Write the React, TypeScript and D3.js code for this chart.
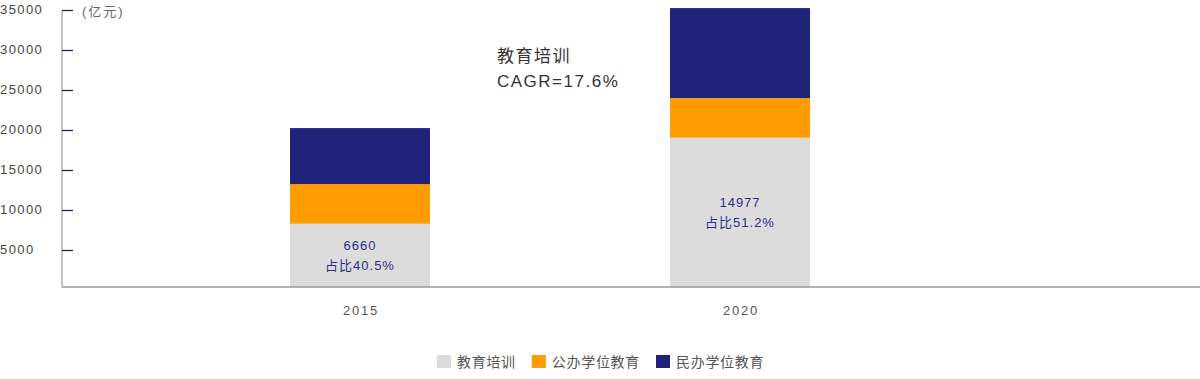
import React from "react";
import * as d3 from "d3";

const years = ["2015", "2020"];
const seriesNames = ["教育培训", "公办学位教育", "民办学位教育"];
const training = [8350, 19100];
const publicEdu = [4950, 4950];
const privateEdu = [7000, 11250];
const colors = ["#dcdcdc", "#ff9c00", "#1f237a"];
const labelValues = ["6660", "14977"];
const labelShares = ["占比40.5%", "占比51.2%"];
const yTicks = [5000, 10000, 15000, 20000, 25000, 30000, 35000];
const unitLabel = "(亿元)";
const noteLines = ["教育培训", "CAGR=17.6%"];

const W = 1200;
const H = 379;
const FONT = "'Liberation Sans', Arial, 'Noto Sans CJK SC', sans-serif";

export default function App() {
  const axisX = 62;
  const axisY = 287;
  const y = d3.scaleLinear().domain([0, 35000]).range([290.5, 10.5]);
  const x = d3.scalePoint<string>().domain(years).range([360, 740]);
  const barW = 140;

  const rows = years.map((yr, i) => ({
    year: yr,
    s0: training[i],
    s1: publicEdu[i],
    s2: privateEdu[i],
  }));
  const stack = d3.stack<any>().keys(["s0", "s1", "s2"]);
  const layers = stack(rows);

  // legend layout
  const charW = 14.7;
  const sq = 14;
  let lx = 437;
  const legendItems = seriesNames.map((n, i) => {
    const item = { name: n, x: lx, color: colors[i] };
    lx += sq + 6 + n.length * charW + 16;
    return item;
  });

  return (
    <svg
      width={W}
      height={H}
      style={{ position: "absolute", left: 0, top: 0, fontFamily: FONT }}
    >
      {/* bars */}
      {layers.map((layer, li) => (
        <g key={li} fill={colors[li]}>
          {layer.map((d, i) => {
            const y0 = Math.min(y(d[0]), axisY);
            const y1 = y(d[1]);
            return (
              <rect
                key={i}
                x={(x(years[i]) as number) - barW / 2}
                y={y1}
                width={barW}
                height={y0 - y1}
              />
            );
          })}
        </g>
      ))}

      {/* bar labels */}
      {layers[0].map((d, i) => {
        const cy = (Math.min(y(d[0]), axisY) + y(d[1])) / 2;
        const cx = x(years[i]) as number;
        return (
          <g key={i} fill="#2b3086" fontSize={13} textAnchor="middle" letterSpacing={1}>
            <text x={cx} y={cy - 5}>{labelValues[i]}</text>
            <text x={cx} y={cy + 15}>{labelShares[i]}</text>
          </g>
        );
      })}

      {/* axes */}
      <line x1={axisX} x2={axisX} y1={y(35000)} y2={axisY} stroke="#999" strokeWidth={1.2} />
      <line x1={axisX} x2={W} y1={axisY} y2={axisY} stroke="#999" strokeWidth={1.4} />
      {yTicks.map((t) => (
        <g key={t}>
          <line x1={axisX} x2={axisX + 11} y1={y(t)} y2={y(t)} stroke="#1f237a" strokeWidth={1.3} />
          <text x={0} y={y(t) + 3.5} fontSize={13} fill="#444" letterSpacing={1.4}>
            {t}
          </text>
        </g>
      ))}
      <text x={82} y={15.5} fontSize={13} fill="#666" letterSpacing={2}>
        {unitLabel}
      </text>

      {years.map((yr) => (
        <text
          key={yr}
          x={(x(yr) as number) + 1}
          y={315}
          fontSize={13}
          fill="#555"
          textAnchor="middle"
          letterSpacing={1.8}
        >
          {yr}
        </text>
      ))}

      {/* annotation */}
      <text x={497} y={62} fontSize={17} fill="#333" letterSpacing={1.5}>
        {noteLines[0]}
      </text>
      <text x={497} y={87} fontSize={17} fill="#333" letterSpacing={1.5}>
        {noteLines[1]}
      </text>

      {/* legend */}
      {legendItems.map((it) => (
        <g key={it.name}>
          <rect x={it.x} y={355} width={sq} height={13} fill={it.color} />
          <text x={it.x + sq + 6} y={366.5} fontSize={14} fill="#555" letterSpacing={0.7}>
            {it.name}
          </text>
        </g>
      ))}
    </svg>
  );
}
